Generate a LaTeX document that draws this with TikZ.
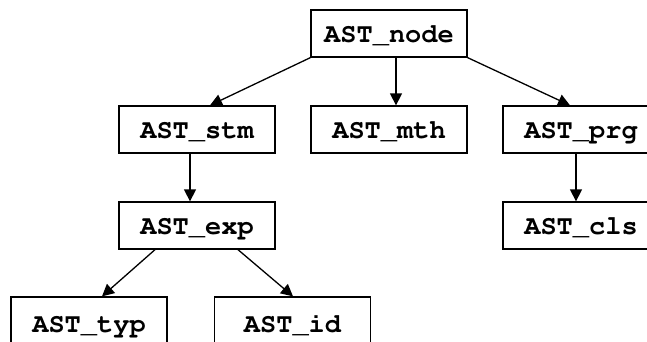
\documentclass[tikz,border=0pt]{standalone}
\usepackage[T1]{fontenc}
\usetikzlibrary{arrows.meta}
\newcommand\courierbold{\fontfamily{pcr}\fontseries{b}\fontsize{27}{30}\selectfont}
\tikzset{
  cls/.style={draw, line width=1.3pt, rectangle, minimum width=156pt, minimum height=47pt,
    inner sep=0pt, text height=18.4pt, text depth=0pt, font=\courierbold},
  leaf/.style={cls, minimum height=53pt},
  inherit/.style={line width=1.3pt, -{Triangle[length=12pt,width=12pt]}}
}
\begin{document}
\begin{tikzpicture}[x=1pt,y=-1pt]
  \useasboundingbox (0,0) rectangle (647,341);
  % class boxes
  \node[cls] (node) at (389,33.5)  {AST\_node};
  \node[cls] (stm)  at (197,129.5) {AST\_stm};
  \node[cls] (mth)  at (389,129.5) {AST\_mth};
  \node[cls] (prg)  at (581,129.5) {AST\_prg};
  \node[cls] (exp)  at (197,225.5) {AST\_exp};
  \node[cls] (clsn) at (581,225.5) {AST\_cls};
  \node[leaf] (typ) at (89,323.5)  {AST\_typ};
  \node[leaf] (id)  at (292.5,323.5) {AST\_id};
  % inheritance edges
  \draw[inherit] (node.south west) -- ([xshift=13pt]stm.north);
  \draw[inherit] ([xshift=7pt]node.south) -- ([xshift=7pt]mth.north);
  \draw[inherit] (node.south east) -- ([xshift=-11pt]prg.north);
  \draw[inherit] ([xshift=-7pt]stm.south) -- ([xshift=-7pt]exp.north);
  \draw[inherit] ([xshift=-5pt]prg.south) -- ([xshift=-5pt]clsn.north);
  \draw[inherit] ([xshift=-42pt]exp.south) -- ([xshift=13pt]typ.north);
  \draw[inherit] ([xshift=41pt]exp.south) -- ([xshift=0.5pt]id.north);
\end{tikzpicture}
\end{document}
